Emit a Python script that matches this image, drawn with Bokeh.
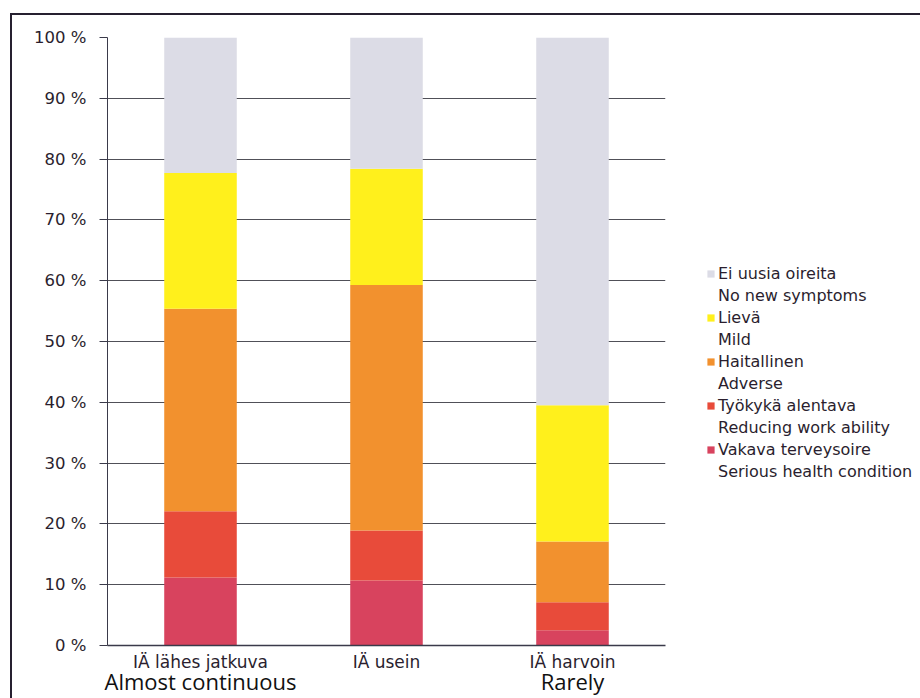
from bokeh.plotting import figure
from bokeh.models import (FactorRange, Range1d, FixedTicker, Legend, LegendItem,
                          CategoricalAxis)
from bokeh.embed import file_html
from bokeh.resources import INLINE

categories = ["IÄ lähes jatkuva", "IÄ usein", "IÄ harvoin"]
english_labels = ["Almost continuous", " ", "Rarely"]

vakava = [11.2, 10.7, 2.5]
tyokyky = [10.9, 8.2, 4.6]
haitallinen = [33.3, 40.4, 10.0]
lieva = [22.3, 19.1, 22.4]
ei_uusia = [22.3, 21.6, 60.5]

series_keys = ["vakava", "tyokyky", "haitallinen", "lieva", "ei_uusia"]
series_fi = ["Vakava terveysoire", "Työkykä alentava", "Haitallinen", "Lievä", "Ei uusia oireita"]
series_en = ["Serious health condition", "Reducing work ability", "Adverse", "Mild", "No new symptoms"]
colors = ["#d8435e", "#e84b3a", "#f2912e", "#fff01c", "#dcdce6"]

y_ticks = [0, 10, 20, 30, 40, 50, 60, 70, 80, 90, 100]

p = figure(x_range=FactorRange(*categories, range_padding=0), y_range=Range1d(0, 100),
           frame_width=558, frame_height=608, output_backend="svg", toolbar_location=None,
           min_border_left=95, min_border_right=253, min_border_top=22, min_border_bottom=30)
p.margin = (13, 0, 0, 10)
p.styles = {"border-top": "2px solid #262030", "border-left": "2px solid #262030"}
p.outline_line_color = None
p.background_fill_color = "white"
p.border_fill_color = "white"
p.extra_x_ranges = {"en": FactorRange(*english_labels, range_padding=0)}

data = dict(cat=categories, vakava=vakava, tyokyky=tyokyky, haitallinen=haitallinen,
            lieva=lieva, ei_uusia=ei_uusia)
rs = p.vbar_stack(series_keys, x="cat", width=0.39, color=colors, line_color=None, source=data)

# y axis
p.yaxis.ticker = FixedTicker(ticks=y_ticks)
p.yaxis.major_label_overrides = {t: f"{t} %" for t in y_ticks}
p.yaxis.major_label_text_font = "DejaVu Sans"
p.yaxis.major_label_text_font_size = "16.5px"
p.yaxis.major_label_text_color = "#2a1e2e"
p.yaxis.major_tick_in = 0
p.yaxis.major_tick_out = 8
p.yaxis.minor_tick_line_color = None
p.yaxis.axis_line_color = "#3a3a4a"
p.yaxis.major_tick_line_color = "#3a3a4a"
p.yaxis.major_label_standoff = 13

p.ygrid.ticker = FixedTicker(ticks=y_ticks)
p.ygrid.grid_line_color = "#505058"
p.ygrid.grid_line_width = 1.2
p.xgrid.grid_line_color = None

# x axes
p.xaxis.major_label_text_font = "DejaVu Sans"
p.xaxis.major_label_text_font_size = "17px"
p.xaxis.major_label_text_color = "#2a1e2e"
p.xaxis.major_tick_line_color = None
p.xaxis.axis_line_color = "#3a3a4a"
p.xaxis.axis_line_width = 1.5
p.xaxis.major_label_standoff = 0

ax2 = CategoricalAxis(x_range_name="en",
                      axis_line_color=None, major_tick_line_color=None,
                      minor_tick_line_color=None, major_label_standoff=-15,
                      major_label_text_font="Open Sans", major_label_text_font_size="22px",
                      major_label_text_color="#111111")
p.add_layout(ax2, "below")

# legend (two lines per entry)
items = []
for i in reversed(range(len(series_keys))):
    items.append(LegendItem(label=series_fi[i], renderers=[rs[i]]))
    dummy = p.scatter([], [], fill_alpha=0, line_alpha=0)
    items.append(LegendItem(label=series_en[i], renderers=[dummy]))
legend = Legend(items=items, location=(41, 164), glyph_width=9, glyph_height=9,
                label_standoff=3, spacing=3, padding=0, margin=0,
                label_text_font="DejaVu Sans", label_text_font_size="16px",
                label_text_color="#2a1e2e", label_height=18,
                border_line_color=None, background_fill_alpha=0)
p.add_layout(legend, "right")

open("out.html", "w").write(file_html(p, INLINE))
